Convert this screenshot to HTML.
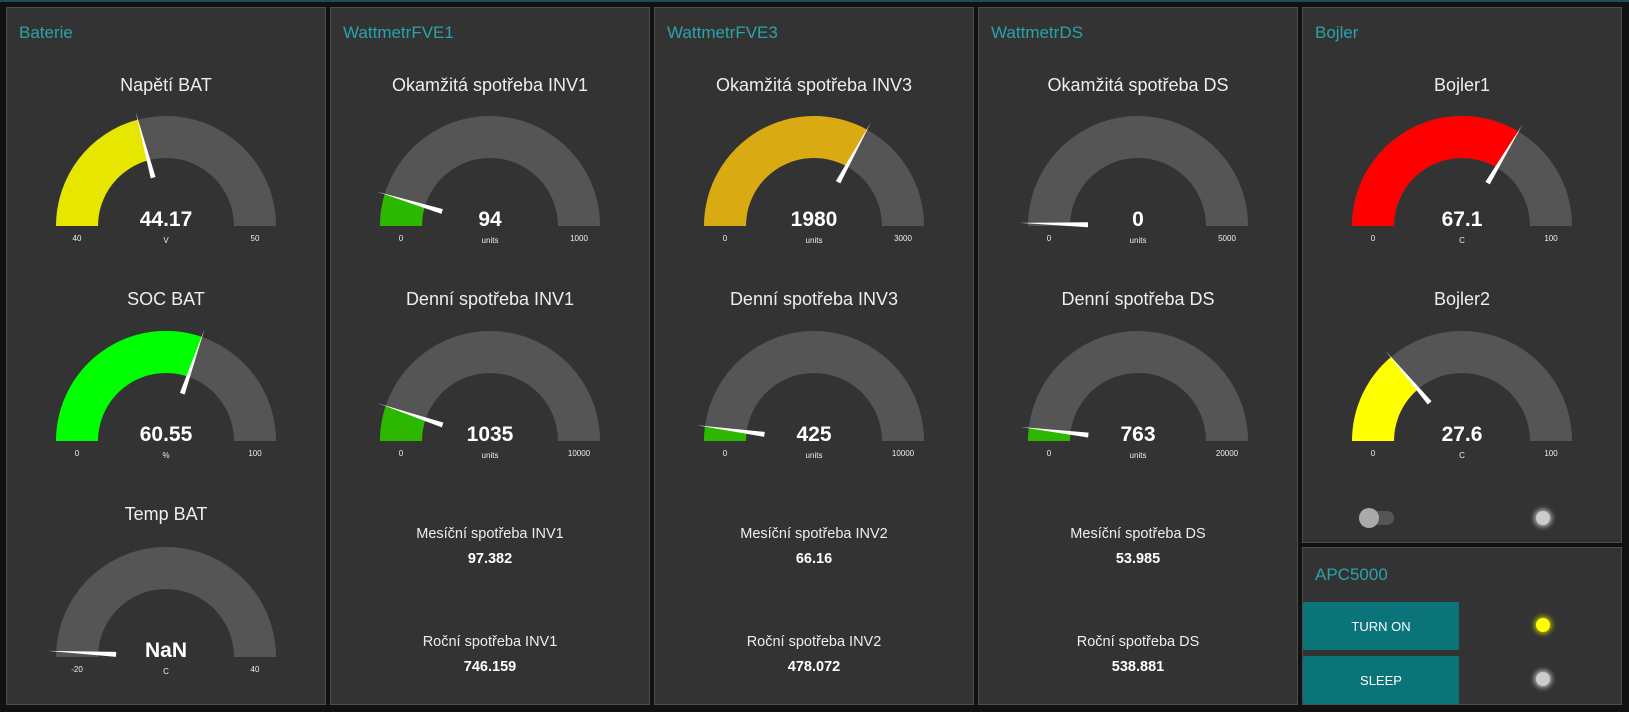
<!DOCTYPE html>
<html><head><meta charset="utf-8"><style>
html,body{margin:0;padding:0;background:#111;}
svg{display:block;font-family:"Liberation Sans",sans-serif;}
.pt{fill:#2aa3ab;font-size:17px;}
.gt{fill:#eee;font-size:18px;text-anchor:middle;}
.gv{fill:#fff;font-size:21px;font-weight:bold;text-anchor:middle;}
.gs{fill:#eee;font-size:8px;text-anchor:middle;}
.lt{fill:#eee;font-size:14.5px;text-anchor:middle;}
.lv{fill:#fff;font-size:14.5px;font-weight:bold;text-anchor:middle;}
.bg{fill:#555;}
.nd{fill:#fff;}
</style></head><body>
<svg width="1629" height="712" viewBox="0 0 1629 712" xmlns="http://www.w3.org/2000/svg">
<defs>
<path id="arc" d="M -110 0 A 110 110 0 0 1 110 0 L 68 0 A 68 68 0 0 0 -68 0 Z"/>
<polygon id="nd" points="-50,-2.5 -50,2.5 -118,0"/>
<filter id="glow" x="-100%" y="-100%" width="300%" height="300%"><feGaussianBlur stdDeviation="2.5"/></filter>
</defs>
<rect x="0" y="0" width="1629" height="712" fill="#111"/>
<rect x="0" y="0" width="1629" height="2" fill="#1d4c54"/>
<!-- panels -->
<rect x="6.5" y="7.5" width="319" height="697" fill="#333" stroke="#4d4d4d"/>
<rect x="330.5" y="7.5" width="319" height="697" fill="#333" stroke="#4d4d4d"/>
<rect x="654.5" y="7.5" width="319" height="697" fill="#333" stroke="#4d4d4d"/>
<rect x="978.5" y="7.5" width="319" height="697" fill="#333" stroke="#4d4d4d"/>
<rect x="1302.5" y="7.5" width="319" height="535" fill="#333" stroke="#4d4d4d"/>
<rect x="1302.5" y="547.5" width="319" height="157" fill="#333" stroke="#4d4d4d"/>
<text class="pt" x="19" y="38">Baterie</text>
<text class="pt" x="343" y="38">WattmetrFVE1</text>
<text class="pt" x="667" y="38">WattmetrFVE3</text>
<text class="pt" x="991" y="38">WattmetrDS</text>
<text class="pt" x="1315" y="38">Bojler</text>
<text class="pt" x="1315" y="580">APC5000</text>

<!-- Baterie -->
<text class="gt" x="166" y="91">Napětí BAT</text>
<g transform="translate(166,226)">
<use href="#arc" class="bg"/>
<path d="M -110 0 A 110 110 0 0 1 -28.5 -106.3 L -17.6 -65.7 A 68 68 0 0 0 -68 0 Z" fill="#e6e600"/>
<use href="#nd" class="nd" transform="rotate(75.1)"/>
<text class="gv" y="0">44.17</text><text class="gs" y="17">V</text>
<text class="gs" x="-89" y="15">40</text><text class="gs" x="89" y="15">50</text>
</g>
<text class="gt" x="166" y="305">SOC BAT</text>
<g transform="translate(166,441)">
<use href="#arc" class="bg"/>
<path d="M -110 0 A 110 110 0 0 1 35.9 -104.1 L 22.2 -64.3 A 68 68 0 0 0 -68 0 Z" fill="#00ff00"/>
<use href="#nd" class="nd" transform="rotate(109)"/>
<text class="gv" y="0">60.55</text><text class="gs" y="17">%</text>
<text class="gs" x="-89" y="15">0</text><text class="gs" x="89" y="15">100</text>
</g>
<text class="gt" x="166" y="520">Temp BAT</text>
<g transform="translate(166,657)">
<use href="#arc" class="bg"/>
<use href="#nd" class="nd" transform="rotate(3)"/>
<text class="gv" y="0">NaN</text><text class="gs" y="17">C</text>
<text class="gs" x="-89" y="15">-20</text><text class="gs" x="89" y="15">40</text>
</g>

<!-- FVE1 -->
<text class="gt" x="490" y="91">Okamžitá spotřeba INV1</text>
<g transform="translate(490,226)">
<use href="#arc" class="bg"/>
<path d="M -110 0 A 110 110 0 0 1 -105.3 -32.0 L -65.1 -19.8 A 68 68 0 0 0 -68 0 Z" fill="#2db800"/>
<use href="#nd" class="nd" transform="rotate(16.9)"/>
<text class="gv" y="0">94</text><text class="gs" y="17">units</text>
<text class="gs" x="-89" y="15">0</text><text class="gs" x="89" y="15">1000</text>
</g>
<text class="gt" x="490" y="305">Denní spotřeba INV1</text>
<g transform="translate(490,441)">
<use href="#arc" class="bg"/>
<path d="M -110 0 A 110 110 0 0 1 -104.3 -35.1 L -64.5 -21.7 A 68 68 0 0 0 -68 0 Z" fill="#2db800"/>
<use href="#nd" class="nd" transform="rotate(18.6)"/>
<text class="gv" y="0">1035</text><text class="gs" y="17">units</text>
<text class="gs" x="-89" y="15">0</text><text class="gs" x="89" y="15">10000</text>
</g>
<text class="lt" x="490" y="538">Mesíční spotřeba INV1</text>
<text class="lv" x="490" y="563">97.382</text>
<text class="lt" x="490" y="646">Roční spotřeba INV1</text>
<text class="lv" x="490" y="671">746.159</text>

<!-- FVE3 -->
<text class="gt" x="814" y="91">Okamžitá spotřeba INV3</text>
<g transform="translate(814,226)">
<use href="#arc" class="bg"/>
<path d="M -110 0 A 110 110 0 0 1 53.0 -96.4 L 32.8 -59.6 A 68 68 0 0 0 -68 0 Z" fill="#daaa12"/>
<use href="#nd" class="nd" transform="rotate(118.8)"/>
<text class="gv" y="0">1980</text><text class="gs" y="17">units</text>
<text class="gs" x="-89" y="15">0</text><text class="gs" x="89" y="15">3000</text>
</g>
<text class="gt" x="814" y="305">Denní spotřeba INV3</text>
<g transform="translate(814,441)">
<use href="#arc" class="bg"/>
<path d="M -110 0 A 110 110 0 0 1 -109.0 -14.6 L -67.4 -9.0 A 68 68 0 0 0 -68 0 Z" fill="#2db800"/>
<use href="#nd" class="nd" transform="rotate(7.65)"/>
<text class="gv" y="0">425</text><text class="gs" y="17">units</text>
<text class="gs" x="-89" y="15">0</text><text class="gs" x="89" y="15">10000</text>
</g>
<text class="lt" x="814" y="538">Mesíční spotřeba INV2</text>
<text class="lv" x="814" y="563">66.16</text>
<text class="lt" x="814" y="646">Roční spotřeba INV2</text>
<text class="lv" x="814" y="671">478.072</text>

<!-- DS -->
<text class="gt" x="1138" y="91">Okamžitá spotřeba DS</text>
<g transform="translate(1138,226)">
<use href="#arc" class="bg"/>
<use href="#nd" class="nd" transform="rotate(1.5)"/>
<text class="gv" y="0">0</text><text class="gs" y="17">units</text>
<text class="gs" x="-89" y="15">0</text><text class="gs" x="89" y="15">5000</text>
</g>
<text class="gt" x="1138" y="305">Denní spotřeba DS</text>
<g transform="translate(1138,441)">
<use href="#arc" class="bg"/>
<path d="M -110 0 A 110 110 0 0 1 -109.2 -13.0 L -67.5 -8.0 A 68 68 0 0 0 -68 0 Z" fill="#2db800"/>
<use href="#nd" class="nd" transform="rotate(6.8)"/>
<text class="gv" y="0">763</text><text class="gs" y="17">units</text>
<text class="gs" x="-89" y="15">0</text><text class="gs" x="89" y="15">20000</text>
</g>
<text class="lt" x="1138" y="538">Mesíční spotřeba DS</text>
<text class="lv" x="1138" y="563">53.985</text>
<text class="lt" x="1138" y="646">Roční spotřeba DS</text>
<text class="lv" x="1138" y="671">538.881</text>

<!-- Bojler -->
<text class="gt" x="1462" y="91">Bojler1</text>
<g transform="translate(1462,226)">
<use href="#arc" class="bg"/>
<path d="M -110 0 A 110 110 0 0 1 56.3 -94.5 L 34.8 -58.4 A 68 68 0 0 0 -68 0 Z" fill="#ff0000"/>
<use href="#nd" class="nd" transform="rotate(120.8)"/>
<text class="gv" y="0">67.1</text><text class="gs" y="17">C</text>
<text class="gs" x="-89" y="15">0</text><text class="gs" x="89" y="15">100</text>
</g>
<text class="gt" x="1462" y="305">Bojler2</text>
<g transform="translate(1462,441)">
<use href="#arc" class="bg"/>
<path d="M -110 0 A 110 110 0 0 1 -71.2 -83.9 L -44.0 -51.9 A 68 68 0 0 0 -68 0 Z" fill="#ffff00"/>
<use href="#nd" class="nd" transform="rotate(49.7)"/>
<text class="gv" y="0">27.6</text><text class="gs" y="17">C</text>
<text class="gs" x="-89" y="15">0</text><text class="gs" x="89" y="15">100</text>
</g>
<rect x="1369" y="511" width="25" height="14" rx="7" fill="#555"/>
<circle cx="1369" cy="518" r="10" fill="#aaa"/>
<circle cx="1543" cy="518" r="9" fill="#fff" opacity="0.6" filter="url(#glow)"/>
<circle cx="1543" cy="518" r="7" fill="#ccc"/>

<!-- APC -->
<rect x="1303" y="602" width="156" height="48" rx="2" fill="#0b7479"/>
<rect x="1303" y="656" width="156" height="48" rx="2" fill="#0b7479"/>
<text x="1381" y="631" fill="#fff" font-size="13" text-anchor="middle">TURN ON</text>
<text x="1381" y="685" fill="#fff" font-size="13" text-anchor="middle">SLEEP</text>
<circle cx="1543" cy="625" r="9" fill="#ffff00" opacity="0.6" filter="url(#glow)"/>
<circle cx="1543" cy="625" r="7" fill="#ffff00"/>
<circle cx="1543" cy="679" r="9" fill="#fff" opacity="0.6" filter="url(#glow)"/>
<circle cx="1543" cy="679" r="7" fill="#ccc"/>
</svg>
</body></html>
